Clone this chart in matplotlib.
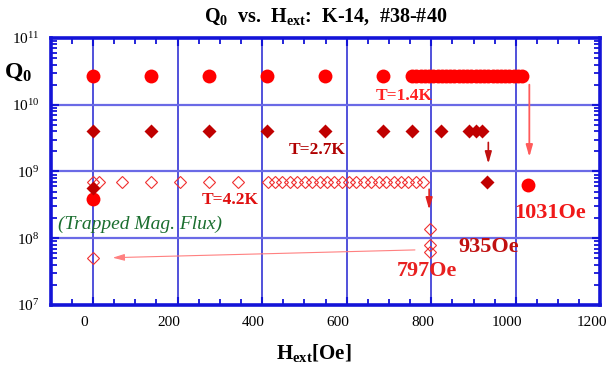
import numpy as np
import matplotlib
matplotlib.use('Agg')
import matplotlib.pyplot as plt
import matplotlib.transforms as mtransforms
from matplotlib.ticker import MultipleLocator, LogLocator, NullFormatter, LogFormatterMathtext

# Q0 vs Hext data
# T=1.4K (filled circles)
H_14 = [0, 137, 274, 412, 549, 686, 755, 765, 775, 785, 795, 805, 815, 825, 835, 845, 855,
        865, 875, 885, 895, 905, 915, 925, 935, 945, 955, 965, 975, 985, 995, 1005, 1015]
Q_14 = [2.65e10] * len(H_14)
# T=2.7K (filled diamonds)
H_27 = [0, 137, 274, 412, 549, 686, 754, 822, 889, 905, 921]
Q_27 = [4.1e9] * len(H_27)
# T=4.2K (open diamonds)
H_42 = [0, 15, 68, 136, 206, 274, 343, 413, 431, 448, 466, 483, 501, 518, 536, 553, 571,
        588, 606, 623, 641, 658, 676, 693, 711, 728, 746, 763, 781]
Q_42 = [7.0e8] * len(H_42)

# quench points (after transition)
H_14_q = [1029]
Q_14_q = [6.2e8]
H_27_q = [933]
Q_27_q = [7.0e8]
H_42_q = [797, 797, 797]
Q_42_q = [1.39e8, 8.0e7, 6.3e7]

# trapped flux points at zero field
H_trap = [0, 0, 0]
Q_trap = [3.9e8, 5.6e8, 5.0e7]   # 1.4K, 2.7K, 4.2K

x_ticks = [0, 200, 400, 600, 800, 1000, 1200]

plt.rcParams['font.family'] = ['Liberation Serif', 'DejaVu Serif']
plt.rcParams['mathtext.fontset'] = 'custom'
plt.rcParams['mathtext.rm'] = 'Liberation Serif'
plt.rcParams['mathtext.it'] = 'Liberation Serif:italic'
plt.rcParams['mathtext.bf'] = 'Liberation Serif:bold'

blue = '#1414d8'
red = '#ff0000'
dred = '#c00000'
ored = '#f03030'

fig = plt.figure(figsize=(6.06, 3.70), dpi=100)
ax = fig.add_axes([0.0837, 0.1757, 0.907, 0.7216])

ax.set_yscale('log')
ax.set_xlim(-100, 1200)
ax.set_ylim(1e7, 1e11)

# grid
for xv in x_ticks[:-1]:
    ax.axvline(xv, color='#3434d4', lw=1.2, zorder=1)
for yv in [1e8, 1e9, 1e10]:
    ax.axhline(yv, color='#6a6ae6', lw=1.6, zorder=1)

# data
ax.plot(H_14, Q_14, 'o', color=red, ms=10, mec='none', zorder=3)
ax.plot(H_14_q, Q_14_q, 'o', color=red, ms=10, mec='none', zorder=3)
ax.plot(H_trap[0], Q_trap[0], 'o', color=red, ms=10, mec='none', zorder=3)
ax.plot(H_27, Q_27, 'D', color=dred, ms=6.8, mec='none', zorder=4)
ax.plot(H_27_q, Q_27_q, 'D', color=dred, ms=6.8, mec='none', zorder=4)
ax.plot(H_trap[1], Q_trap[1], 'D', color=dred, ms=6.8, mec='none', zorder=4)
ax.plot(H_42, Q_42, 'D', mfc='none', mec=ored, ms=6.0, mew=0.8, zorder=3)
ax.plot(H_42_q, Q_42_q, 'D', mfc='none', mec=ored, ms=6.0, mew=0.8, zorder=3)
ax.plot(H_trap[2], Q_trap[2], 'D', mfc='none', mec=ored, ms=6.0, mew=0.8, zorder=3)

# arrows
ax.annotate('', xy=(1032, 1.5e9), xytext=(1032, 2.2e10),
            arrowprops=dict(arrowstyle='-|>,head_length=0.7,head_width=0.2', color='#ff5a5a', lw=1.3), zorder=2)
ax.annotate('', xy=(935, 1.19e9), xytext=(935, 3.0e9),
            arrowprops=dict(arrowstyle='-|>,head_length=0.7,head_width=0.2', color='#c01010', lw=1.2), zorder=2)
ax.annotate('', xy=(795, 2.44e8), xytext=(795, 5.97e8),
            arrowprops=dict(arrowstyle='-|>,head_length=0.7,head_width=0.2', color='#e02020', lw=1.2), zorder=2)
ax.annotate('', xy=(40, 5.1e7), xytext=(768, 6.7e7),
            arrowprops=dict(arrowstyle='-|>,head_length=0.7,head_width=0.2', color='#ff8080', lw=0.8), zorder=2)

# labels on the plot
ax.text(737, 1.33e10, 'T=1.4K', color='#ff2020', fontsize=12.5, fontweight='bold', ha='center', va='center')
ax.text(531, 2.13e9, 'T=2.7K', color='#b00000', fontsize=12.5, fontweight='bold', ha='center', va='center')
ax.text(324, 3.8e8, 'T=4.2K', color='#e01010', fontsize=12.5, fontweight='bold', ha='center', va='center')
ax.text(111, 1.62e8, '(Trapped Mag. Flux)', color='#1a6e2e', fontsize=14, style='italic', ha='center', va='center')
ax.text(1080, 2.36e8, '1031Oe', color='#f01818', fontsize=16, fontweight='bold', ha='center', va='center')
ax.text(935, 7.3e7, '935Oe', color='#c01010', fontsize=16, fontweight='bold', ha='center', va='center')
ax.text(790, 3.2e7, '797Oe', color='#e82020', fontsize=16, fontweight='bold', ha='center', va='center')

# axes styling
for sp in ax.spines.values():
    sp.set_color(blue)
    sp.set_linewidth(2.6)
    sp.set_zorder(5)
ax.set_xticks(x_ticks)
ax.xaxis.set_minor_locator(MultipleLocator(50))
ax.yaxis.set_major_locator(LogLocator(base=10, numticks=10))
ax.yaxis.set_minor_locator(LogLocator(base=10, subs=np.arange(2, 10), numticks=10))
ax.yaxis.set_major_formatter(LogFormatterMathtext())
ax.yaxis.set_minor_formatter(NullFormatter())
ax.tick_params(which='both', direction='in', top=True, right=True, color=blue, labelsize=11, labelcolor='black')
ax.tick_params(which='major', length=6, width=1.5, pad=8)
ax.tick_params(which='minor', length=4, width=1.3)

# x tick labels sit a bit left of their ticks in the original
offset = mtransforms.ScaledTranslation(-8.5 / 100, 0, fig.dpi_scale_trans)
for lab in ax.get_xticklabels():
    lab.set_transform(lab.get_transform() + offset)

fig.text(0.537, 0.955, r'$\mathbf{Q_0}$  vs.  $\mathbf{H_{ext}}$:  K-14,  #38-#40',
         fontsize=14.5, fontweight='bold', ha='center', va='center')
fig.text(0.03, 0.805, r'$\mathbf{Q_0}$', fontsize=17, ha='center', va='center')
fig.text(0.517, 0.045, r'$\mathbf{H_{ext}}$[Oe]', fontsize=15, fontweight='bold', ha='center', va='center')

fig.savefig('out.png', dpi=100)
